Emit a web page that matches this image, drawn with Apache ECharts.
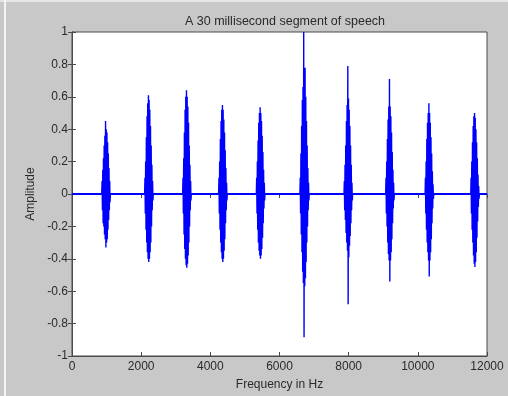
<!DOCTYPE html>
<html>
<head>
<meta charset="utf-8">
<script src="https://cdn.jsdelivr.net/npm/echarts@6/dist/echarts.min.js"></script>
<style>
  html, body { margin: 0; padding: 0; background: #c8c8c8; }
  #chart { width: 508px; height: 396px; }
</style>
</head>
<body>
<div id="chart"></div>
<script>
// x positions (Hz) where each burst begins, and spacing of the samples inside a burst
const burstStarts = [870, 2110, 3210, 4250, 5340, 6600, 7875, 9080, 10220, 11540];
const sampleStep = 10;

// alternating peak values (left to right)
const burst1 = [0.08, -0.1, 0.15, -0.18, 0.22, -0.2, 0.3, -0.25, 0.36, -0.28, 0.45, -0.33, 0.4, -0.3, 0.38, -0.28, 0.32, -0.22, 0.25, -0.16, 0.16, -0.1, 0.08, -0.05];
const burst2 = [0.1, -0.12, 0.2, -0.22, 0.35, -0.3, 0.48, -0.36, 0.56, -0.4, 0.61, -0.42, 0.58, -0.4, 0.52, -0.36, 0.42, -0.3, 0.3, -0.2, 0.18, -0.1, 0.08, -0.04];
const burst3 = [0.1, -0.12, 0.22, -0.25, 0.38, -0.34, 0.52, -0.4, 0.6, -0.44, 0.64, -0.455, 0.6, -0.43, 0.54, -0.38, 0.44, -0.3, 0.3, -0.2, 0.18, -0.1, 0.08, -0.04];
const burst4 = [0.1, -0.12, 0.2, -0.22, 0.34, -0.3, 0.45, -0.36, 0.52, -0.4, 0.55, -0.42, 0.52, -0.4, 0.46, -0.35, 0.38, -0.28, 0.27, -0.18, 0.16, -0.1, 0.07, -0.04];
const burst5 = [0.1, -0.12, 0.2, -0.22, 0.33, -0.3, 0.44, -0.35, 0.5, -0.38, 0.535, -0.4, 0.5, -0.38, 0.45, -0.34, 0.36, -0.27, 0.26, -0.18, 0.15, -0.09, 0.07, -0.04];
const burst6 = [0.1, -0.12, 0.25, -0.25, 0.42, -0.36, 0.58, -0.48, 0.66, -0.55, 1.0, -0.885, 0.69, -0.57, 0.78, -0.52, 0.6, -0.42, 0.45, -0.3, 0.3, -0.2, 0.16, -0.1, 0.07, -0.04];
const burst7 = [0.08, -0.1, 0.18, -0.16, 0.3, -0.24, 0.45, -0.3, 0.55, -0.35, 0.79, -0.68, 0.59, -0.39, 0.52, -0.32, 0.42, -0.26, 0.3, -0.18, 0.18, -0.1, 0.07, -0.04];
const burst8 = [0.1, -0.12, 0.2, -0.2, 0.34, -0.3, 0.46, -0.37, 0.54, -0.41, 0.71, -0.54, 0.54, -0.41, 0.48, -0.36, 0.38, -0.28, 0.26, -0.18, 0.15, -0.09, 0.07, -0.04];
const burst9 = [0.1, -0.12, 0.2, -0.22, 0.34, -0.3, 0.44, -0.36, 0.5, -0.41, 0.56, -0.51, 0.5, -0.41, 0.44, -0.36, 0.35, -0.28, 0.25, -0.18, 0.14, -0.09, 0.06, -0.03];
const burst10 = [0.1, -0.12, 0.2, -0.22, 0.32, -0.3, 0.42, -0.38, 0.48, -0.43, 0.5, -0.45, 0.47, -0.42, 0.4, -0.36, 0.32, -0.27, 0.22, -0.17, 0.12, -0.08, 0.05, -0.03];
const bursts = [burst1, burst2, burst3, burst4, burst5, burst6, burst7, burst8, burst9, burst10];

// low-level noise floor running under the whole segment
const baselineX = [0, 12000];
const baselineY = [0, 0];

// stitch the bursts into one signal, returning to zero in between
const signal = [[0, 0]];
bursts.forEach((vals, k) => {
  const x0 = burstStarts[k];
  signal.push([x0 - sampleStep, 0]);
  vals.forEach((v, i) => signal.push([x0 + i * sampleStep, v]));
  signal.push([x0 + vals.length * sampleStep, 0]);
});
signal.push([12000, 0]);

const chart = echarts.init(document.getElementById('chart'));

const textColor = '#2a2a2a';
const axisColor = '#4a4a4a';
const font = 'Liberation Sans, Arial, sans-serif';

const tickStyle = { show: true, inside: true, length: 4, lineStyle: { color: axisColor } };

chart.setOption({
  animation: false,
  backgroundColor: '#c8c8c8',
  title: {
    text: 'A 30 millisecond segment of speech',
    left: 280,
    top: 10,
    textAlign: 'center',
    textStyle: { fontFamily: font, fontSize: 12.5, fontWeight: 'normal', color: textColor },
  },
  graphic: [
    { type: 'rect', shape: { x: 0, y: 0, width: 508, height: 2 }, style: { fill: '#e6e6e6' }, silent: true },
    { type: 'rect', shape: { x: 4, y: 0, width: 2, height: 396 }, style: { fill: '#f4f4f4' }, silent: true },
  ],
  grid: {
    left: 72,
    right: 21,
    top: 32,
    bottom: 39,
    show: true,
    backgroundColor: '#ffffff',
    borderColor: axisColor,
    borderWidth: 1,
  },
  xAxis: [
    {
      type: 'value',
      min: 0,
      max: 12000,
      interval: 2000,
      name: 'Frequency in Hz',
      nameLocation: 'middle',
      nameGap: 23,
      nameTextStyle: { fontFamily: font, fontSize: 12, color: textColor },
      axisLine: { show: true, onZero: false, lineStyle: { color: axisColor } },
      axisTick: tickStyle,
      axisLabel: {
        fontFamily: font,
        fontSize: 12,
        color: textColor,
        margin: 5,
        formatter: (v) => String(v),
      },
      splitLine: { show: false },
    },
    {
      type: 'value',
      position: 'top',
      min: 0,
      max: 12000,
      interval: 2000,
      axisLine: { show: true, lineStyle: { color: axisColor } },
      axisTick: tickStyle,
      axisLabel: { show: false },
      splitLine: { show: false },
    },
  ],
  yAxis: [
    {
      type: 'value',
      min: -1,
      max: 1,
      interval: 0.2,
      name: 'Amplitude',
      nameLocation: 'middle',
      nameGap: 34,
      nameTextStyle: { fontFamily: font, fontSize: 12, color: textColor },
      axisLine: { show: true, onZero: false, lineStyle: { color: axisColor } },
      axisTick: tickStyle,
      axisLabel: {
        fontFamily: font,
        fontSize: 12,
        color: textColor,
        margin: 4,
        formatter: (v) => String(Math.round(v * 10) / 10),
      },
      splitLine: { show: false },
    },
    {
      type: 'value',
      position: 'right',
      min: -1,
      max: 1,
      interval: 0.2,
      axisLine: { show: true, lineStyle: { color: axisColor } },
      axisTick: tickStyle,
      axisLabel: { show: false },
      splitLine: { show: false },
    },
  ],
  series: [
    {
      type: 'line',
      data: baselineX.map((x, i) => [x, baselineY[i]]),
      symbol: 'none',
      lineStyle: { color: '#0000ff', width: 2 },
      silent: true,
    },
    {
      type: 'line',
      data: signal,
      symbol: 'none',
      sampling: null,
      lineStyle: { color: '#0000ff', width: 1.4 },
      silent: true,
    },
  ],
});
</script>
</body>
</html>
